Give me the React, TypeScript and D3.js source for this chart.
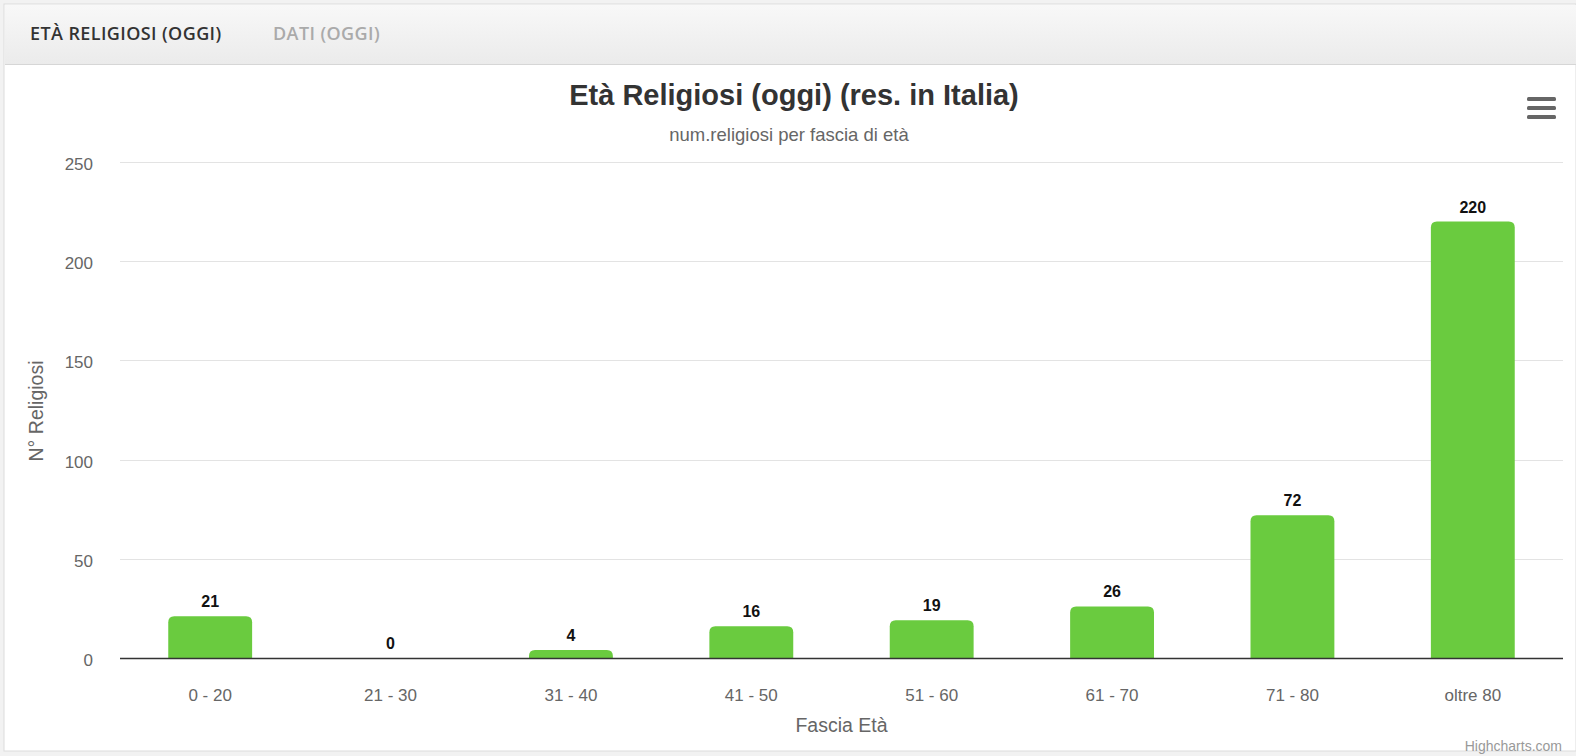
import { useEffect, useRef } from "react";
import * as d3 from "d3";

const categories = ["0 - 20", "21 - 30", "31 - 40", "41 - 50", "51 - 60", "61 - 70", "71 - 80", "oltre 80"];
const values = [21, 0, 4, 16, 19, 26, 72, 220];
const yTicks = [0, 50, 100, 150, 200, 250];
const tabs = ["ETÀ RELIGIOSI (OGGI)", "DATI (OGGI)"];

const W = 1576;
const H = 756;
const FONT = "'Liberation Sans', Arial, Helvetica, sans-serif";

export default function App() {
    const svgRef = useRef<SVGSVGElement | null>(null);

    useEffect(() => {
        const svg = d3.select(svgRef.current!);
        svg.selectAll("*").remove();

        const margin = { top: 162, right: 13, bottom: 98, left: 120 };
        const plotW = W - margin.left - margin.right;
        const plotH = H - margin.top - margin.bottom;

        // page frame + tab bar
        svg.append("rect").attr("width", W).attr("height", H).attr("fill", "#f2f2f2");
        svg.append("rect").attr("x", 4).attr("y", 4).attr("width", W - 4).attr("height", H - 9)
            .attr("fill", "#fff").attr("stroke", "#dcdcdc");

        const defs = svg.append("defs");
        const grad = defs.append("linearGradient").attr("id", "tabgrad")
            .attr("x1", 0).attr("y1", 0).attr("x2", 0).attr("y2", 1);
        grad.append("stop").attr("offset", "0%").attr("stop-color", "#f8f8f8");
        grad.append("stop").attr("offset", "100%").attr("stop-color", "#ebebeb");
        svg.append("rect").attr("x", 5).attr("y", 5).attr("width", W - 5).attr("height", 59)
            .attr("fill", "url(#tabgrad)");
        svg.append("line").attr("x1", 5).attr("x2", W).attr("y1", 64.5).attr("y2", 64.5)
            .attr("stroke", "#d6d6d6");

        svg.selectAll("text.tab")
            .data(tabs)
            .join("text")
            .attr("class", "tab")
            .attr("x", (_d, i) => (i === 0 ? 30 : 273))
            .attr("y", 40)
            .attr("font-family", "'Open Sans', sans-serif")
            .attr("font-weight", 600)
            .attr("font-size", 18)
            .attr("letter-spacing", 0.4)
            .attr("fill", (_d, i) => (i === 0 ? "#333" : "#aaa"))
            .text((d) => d);

        // titles
        svg.append("text")
            .attr("x", 794).attr("y", 105)
            .attr("text-anchor", "middle")
            .attr("font-family", FONT).attr("font-weight", "bold").attr("font-size", 29)
            .attr("fill", "#333")
            .text("Età Religiosi (oggi) (res. in Italia)");
        svg.append("text")
            .attr("x", 789).attr("y", 141)
            .attr("text-anchor", "middle")
            .attr("font-family", FONT).attr("font-size", 18.5)
            .attr("fill", "#666")
            .text("num.religiosi per fascia di età");

        // menu icon
        svg.append("g").selectAll("rect")
            .data([0, 1, 2])
            .join("rect")
            .attr("x", 1527).attr("y", (d) => 97 + d * 9)
            .attr("width", 29).attr("height", 4).attr("rx", 1.5)
            .attr("fill", "#666");

        const g = svg.append("g").attr("transform", `translate(${margin.left},${margin.top})`);

        const x = d3.scaleBand<string>()
            .domain(categories)
            .range([0, plotW])
            .paddingInner(0.535)
            .paddingOuter(0.2675);

        const y = d3.scaleLinear().domain([0, 250]).range([plotH, 0]);

        // grid
        g.selectAll("line.grid")
            .data(yTicks.filter((t) => t > 0))
            .join("line")
            .attr("class", "grid")
            .attr("x1", 0).attr("x2", plotW)
            .attr("y1", (d) => Math.round(y(d)) + 0.5).attr("y2", (d) => Math.round(y(d)) + 0.5)
            .attr("stroke", "#e3e3e3");

        g.selectAll("text.ytick")
            .data(yTicks)
            .join("text")
            .attr("class", "ytick")
            .attr("x", -27).attr("y", (d) => y(d) + 8)
            .attr("text-anchor", "end")
            .attr("font-family", FONT).attr("font-size", 17)
            .attr("fill", "#666")
            .text((d) => d);

        // bars (rounded top corners)
        const r = 6;
        g.selectAll("path.bar")
            .data(values.map((v, i) => ({ v, c: categories[i] })))
            .join("path")
            .attr("class", "bar")
            .attr("fill", "#6acb3f")
            .attr("d", (d) => {
                if (d.v <= 0) return "";
                const x0 = x(d.c)!;
                const x1 = x0 + x.bandwidth();
                const y0 = y(0);
                const y1 = y(d.v);
                const rr = Math.min(r, (y0 - y1));
                const p = d3.path();
                p.moveTo(x0, y0);
                p.lineTo(x0, y1 + rr);
                p.quadraticCurveTo(x0, y1, x0 + rr, y1);
                p.lineTo(x1 - rr, y1);
                p.quadraticCurveTo(x1, y1, x1, y1 + rr);
                p.lineTo(x1, y0);
                p.closePath();
                return p.toString();
            });

        // axis line
        g.append("line")
            .attr("x1", 0).attr("x2", plotW)
            .attr("y1", plotH + 0.5).attr("y2", plotH + 0.5)
            .attr("stroke", "#333").attr("stroke-width", 1.5);

        // value labels
        g.selectAll("text.val")
            .data(values.map((v, i) => ({ v, c: categories[i] })))
            .join("text")
            .attr("class", "val")
            .attr("x", (d) => x(d.c)! + x.bandwidth() / 2)
            .attr("y", (d) => y(d.v) - 9)
            .attr("text-anchor", "middle")
            .attr("font-family", FONT).attr("font-weight", "bold").attr("font-size", 16)
            .attr("fill", "#111")
            .text((d) => d.v);

        // x labels
        g.selectAll("text.xtick")
            .data(categories)
            .join("text")
            .attr("class", "xtick")
            .attr("x", (d) => x(d)! + x.bandwidth() / 2)
            .attr("y", plotH + 43)
            .attr("text-anchor", "middle")
            .attr("font-family", FONT).attr("font-size", 17)
            .attr("fill", "#666")
            .text((d) => d);

        // axis titles
        g.append("text")
            .attr("x", plotW / 2).attr("y", plotH + 74)
            .attr("text-anchor", "middle")
            .attr("font-family", FONT).attr("font-size", 19.5)
            .attr("fill", "#666")
            .text("Fascia Età");
        svg.append("text")
            .attr("transform", `translate(43,411) rotate(-90)`)
            .attr("text-anchor", "middle")
            .attr("font-family", FONT).attr("font-size", 19.5)
            .attr("fill", "#666")
            .text("N° Religiosi");

        // credits
        svg.append("text")
            .attr("x", 1562).attr("y", 751)
            .attr("text-anchor", "end")
            .attr("font-family", FONT).attr("font-size", 14)
            .attr("fill", "#999")
            .text("Highcharts.com");
    }, []);

    return (
        <svg
            ref={svgRef}
            width={W}
            height={H}
            style={{ position: "absolute", left: 0, top: 0, display: "block" }}
        />
    );
}
